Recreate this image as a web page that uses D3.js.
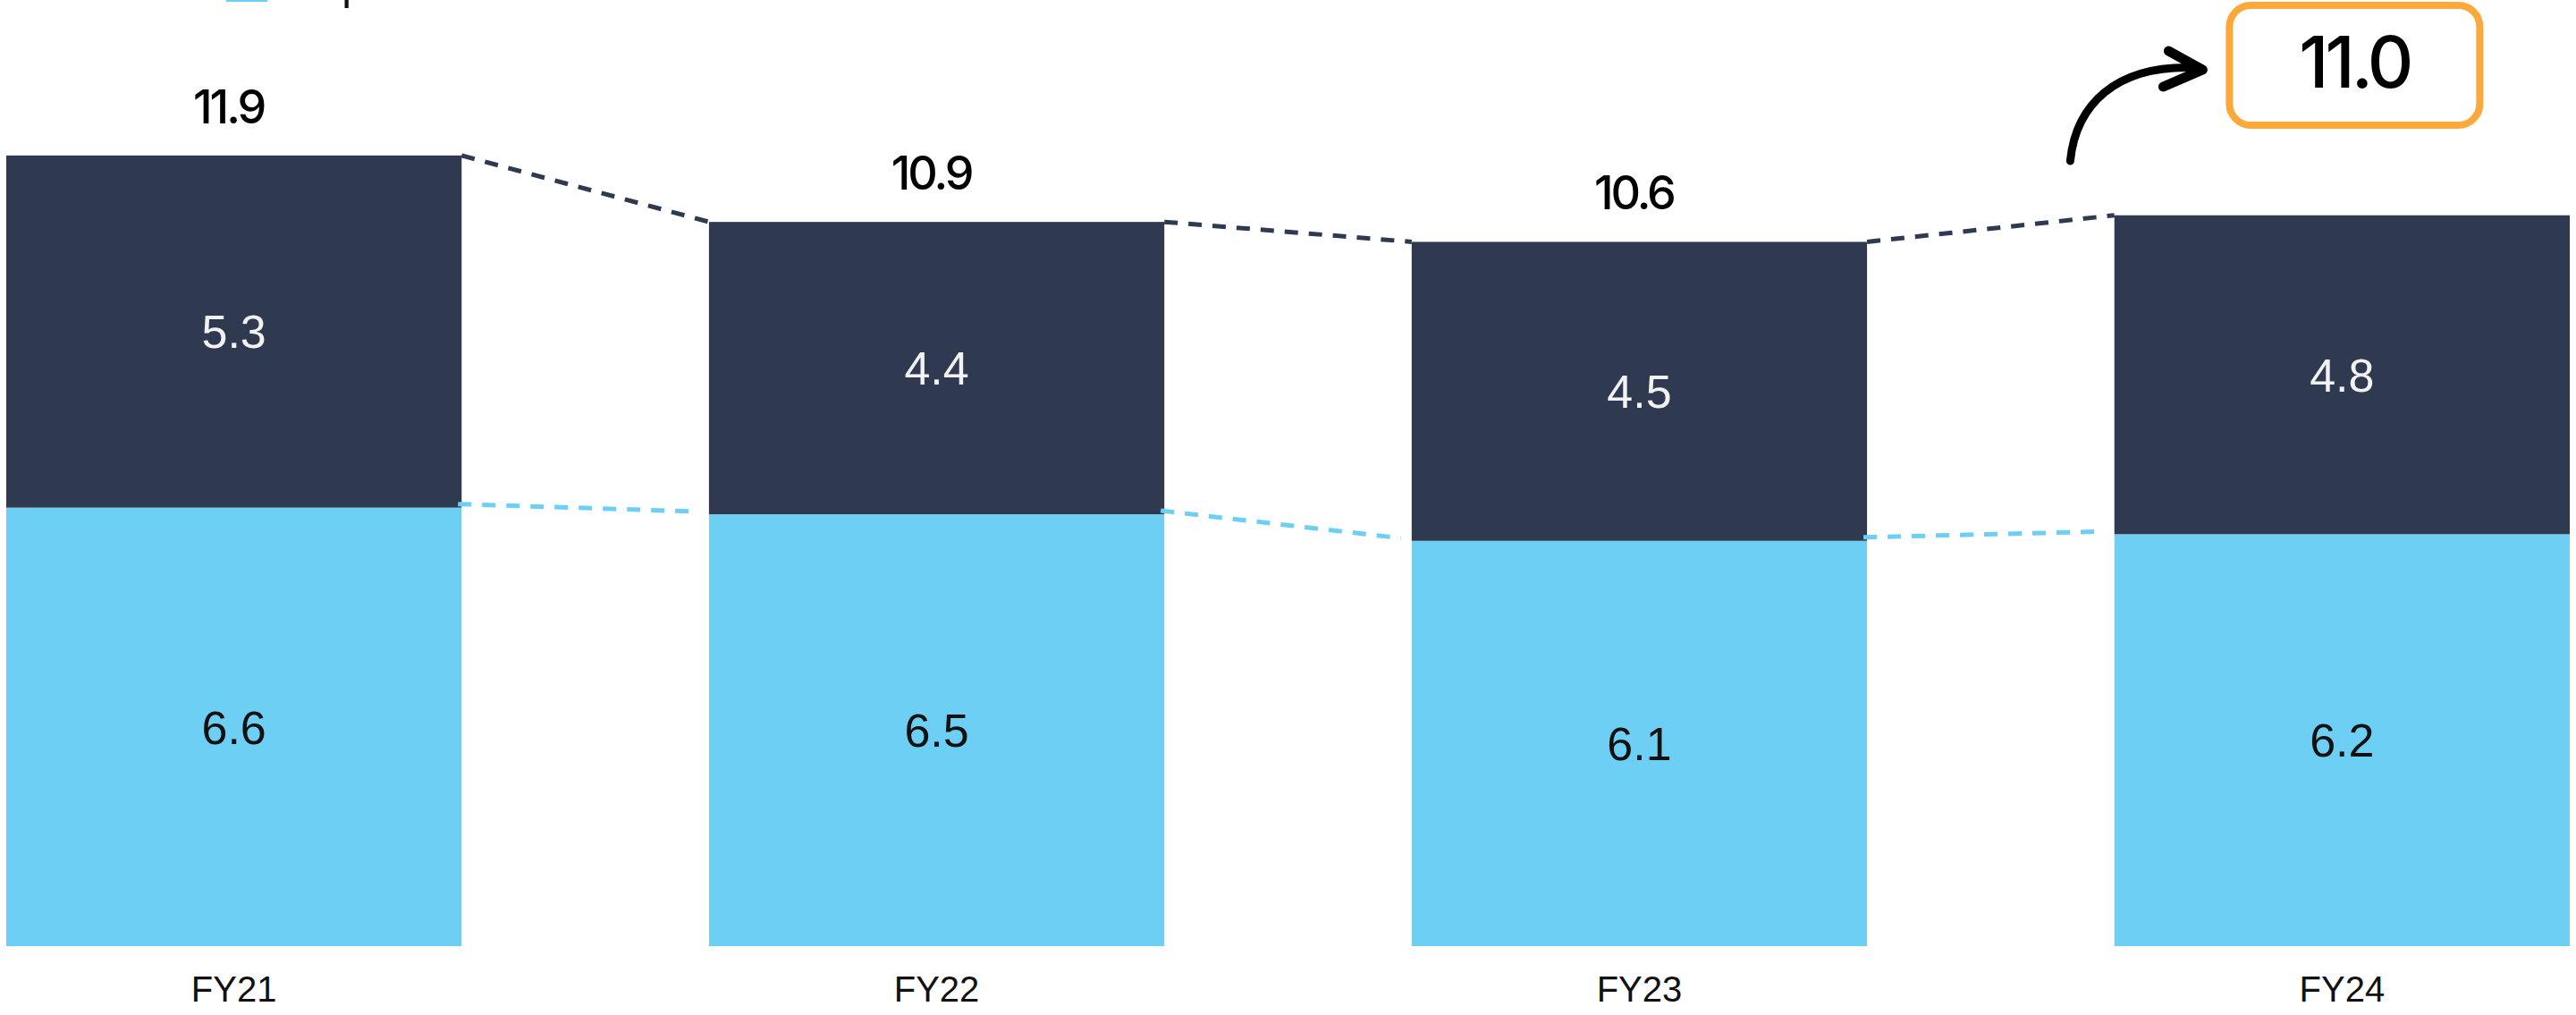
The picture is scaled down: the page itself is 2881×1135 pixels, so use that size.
<!DOCTYPE html>
<html>
<head>
<meta charset="utf-8">
<script src="https://cdn.jsdelivr.net/npm/d3@7"></script>
<style>
  html, body { margin: 0; padding: 0; background: #ffffff; }
  svg { display: block; }
</style>
</head>
<body>
<script>
// ---- data ----
const categories = ["FY21", "FY22", "FY23", "FY24"];
const seriesNames = ["Capex", "Opex"];
const lightValues = [6.6, 6.5, 6.1, 6.2];   // bottom segment
const darkValues  = [5.3, 4.4, 4.5, 4.8];   // top segment
const totals      = [11.9, 10.9, 10.6, 11.0];
const highlightCategory = "FY24";

// ---- styles ----
const W = 2881, H = 1135;
const DARK = "#2F3A51", LIGHT = "#6DCFF4", ORANGE = "#FBA93B";

const rows = categories.map((c, i) => ({ cat: c, light: lightValues[i], dark: darkValues[i], total: totals[i] }));
const stack = d3.stack().keys(["light", "dark"]);
const layers = stack(rows);

const svg = d3.select("body").append("svg").attr("width", W).attr("height", H);

const x = d3.scaleBand().domain(categories).range([7, 2874]).paddingInner(0.352).paddingOuter(0);
const y = d3.scaleLinear().domain([0, 14.24]).range([1058, 0]);
const color = d3.scaleOrdinal().domain(["light", "dark"]).range([LIGHT, DARK]);

// legend (mostly cropped at top of picture, as in the reference)
const legend = svg.append("g");
legend.append("rect").attr("x", 253).attr("y", -44).attr("width", 46).attr("height", 46).attr("fill", LIGHT);
legend.append("text").attr("x", 321).attr("y", -1)
  .attr("font-family", "'Liberation Sans', Arial, sans-serif").attr("font-size", 48).attr("fill", "#111")
  .text(seriesNames[0]);

// bars
svg.append("g").selectAll("g").data(layers).join("g")
  .attr("fill", d => color(d.key))
  .selectAll("rect").data(d => d).join("rect")
  .attr("x", d => x(d.data.cat))
  .attr("width", x.bandwidth())
  .attr("y", d => y(d[1]))
  .attr("height", d => y(d[0]) - y(d[1]));

// dashed connectors
const conn = svg.append("g").attr("fill", "none").attr("stroke-width", 5).attr("stroke-dasharray", "15 12");
for (let i = 0; i < rows.length - 1; i++) {
  const a = rows[i], b = rows[i + 1];
  const x1 = x(a.cat) + x.bandwidth(), x2 = x(b.cat);
  conn.append("line").attr("stroke", DARK)
    .attr("x1", x1).attr("y1", y(a.total))
    .attr("x2", x2).attr("y2", y(b.total));
  conn.append("line").attr("stroke", LIGHT)
    .attr("x1", x1 - 4).attr("y1", y(a.light) - 4)
    .attr("x2", x2 - 12).attr("y2", y(b.light) - 3);
}

// segment labels
const segFont = "'Liberation Sans', Arial, Helvetica, sans-serif";
layers.forEach(layer => {
  svg.append("g").selectAll("text").data(layer).join("text")
    .attr("x", d => x(d.data.cat) + x.bandwidth() / 2)
    .attr("y", d => (y(d[0]) + y(d[1])) / 2)
    .attr("dy", "0.36em")
    .attr("text-anchor", "middle")
    .attr("font-family", segFont)
    .attr("font-size", 52)
    .attr("fill", layer.key === "dark" ? "#F2F2F2" : "#111111")
    .text(d => d3.format(".1f")(d[1] - d[0]));
});

// total labels (except highlighted)
const totFont = "Inter, 'Noto Sans', sans-serif";
svg.append("g").selectAll("text").data(rows.filter(r => r.cat !== highlightCategory)).join("text")
  .attr("x", d => x(d.cat) + x.bandwidth() / 2 - 6)
  .attr("y", d => y(d.total) - 36)
  .attr("text-anchor", "middle")
  .attr("font-family", totFont)
  .attr("font-size", 52)
  .attr("font-weight", 500)
  .attr("letter-spacing", -3)
  .attr("fill", "#000")
  .text(d => d3.format(".1f")(d.total));

// x axis
const xAxis = svg.append("g").attr("transform", `translate(0,${y(0)})`)
  .call(d3.axisBottom(x).tickSize(0).tickPadding(34));
xAxis.select(".domain").remove();
xAxis.selectAll("text").attr("font-family", segFont).attr("font-size", 40).attr("fill", "#111");

// highlight box for last total
const hi = rows.find(r => r.cat === highlightCategory);
const bcx = x(hi.cat) + x.bandwidth() / 2 + 14;
const bw = 280, bh = 134, by = 6;
svg.append("rect").attr("x", bcx - bw / 2).attr("y", by).attr("width", bw).attr("height", bh)
  .attr("rx", 24).attr("ry", 24).attr("fill", "#fff").attr("stroke", ORANGE).attr("stroke-width", 8);
svg.append("text").attr("x", bcx).attr("y", by + 92).attr("text-anchor", "middle")
  .attr("font-family", totFont).attr("font-size", 80).attr("font-weight", 500)
  .attr("letter-spacing", -4).attr("fill", "#000")
  .text(d3.format(".1f")(hi.total));

// hand-drawn arrow
const ax = bcx - bw / 2;  // box left edge
const arrow = svg.append("g").attr("fill", "none").attr("stroke", "#000")
  .attr("stroke-linecap", "round").attr("stroke-linejoin", "round");
arrow.append("path").attr("stroke-width", 9)
  .attr("d", `M${ax - 178},180 C${ax - 172},120 ${ax - 130},70 ${ax - 32},76`);
arrow.append("path").attr("stroke-width", 11)
  .attr("d", `M${ax - 68},57 L${ax - 30},78 L${ax - 74},97`);
</script>
</body>
</html>
